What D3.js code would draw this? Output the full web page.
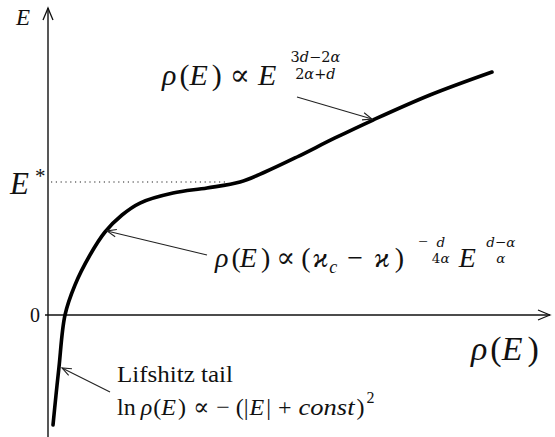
<!DOCTYPE html>
<html>
<head>
<meta charset="utf-8">
<script src="https://cdn.jsdelivr.net/npm/d3@7"></script>
<style>
  html, body { margin: 0; padding: 0; background: #fff; }
  svg { display: block; }
  text { font-family: "Liberation Serif", "DejaVu Serif", serif; fill: #111; }
</style>
</head>
<body>
<svg id="chart" width="555" height="437"></svg>
<script>
// Density of states rho(E) as a function of energy E (E measured in units of E*)
const rho    = [0.010, 0.016, 0.022, 0.034, 0.054, 0.084, 0.114, 0.148, 0.184, 0.250, 0.318, 0.384, 0.434, 0.498, 0.574, 0.650, 0.764, 0.888];
const energy = [-0.827, -0.602, -0.391, 0.000, 0.226, 0.451, 0.624, 0.752, 0.842, 0.917, 0.955, 1.000, 1.075, 1.188, 1.331, 1.466, 1.654, 1.827];

// Marked energies on the vertical axis
const yTickValues = [0, 1];
const yTickLabels = ["0", "E*"];
const eStar = 1;

// Arrow annotations: tip on the curve (rho, E), tail offset in pixels
const annotTipRho = [0.648, 0.118, 0.028];
const annotTipE   = [1.474, 0.632, -0.398];
const annotTail   = [[-75, -22], [100, 24], [48, 24]];

const W = 555, H = 437;
const svg = d3.select("#chart");

const x = d3.scaleLinear().domain([0, 1]).range([48, 548]);
const y = d3.scaleLinear().domain([0, 1]).range([315, 182]);

// ---------- axes ----------
const axisG = svg.append("g").attr("stroke", "#111").attr("fill", "none");
// vertical axis (E)
axisG.append("line")
  .attr("x1", x(0)).attr("x2", x(0))
  .attr("y1", H).attr("y2", 8)
  .attr("stroke-width", 1.4);
axisG.append("path")
  .attr("d", `M${x(0) - 5},20 Q${x(0) - 2},13 ${x(0)},8 Q${x(0) + 2},13 ${x(0) + 5},20`)
  .attr("stroke-width", 1.3);
// horizontal axis (rho)
axisG.append("line")
  .attr("x1", 45).attr("x2", 550)
  .attr("y1", y(0)).attr("y2", y(0))
  .attr("stroke-width", 1.4);
axisG.append("path")
  .attr("d", `M538,${y(0) - 5} Q545,${y(0) - 2} 550,${y(0)} Q545,${y(0) + 2} 538,${y(0) + 5}`)
  .attr("stroke-width", 1.3);

// dotted guide at E*
const iStar = energy.indexOf(eStar);
svg.append("line")
  .attr("x1", x(0) + 3).attr("x2", x(rho[iStar]) - 12)
  .attr("y1", y(eStar)).attr("y2", y(eStar))
  .attr("stroke", "#222").attr("stroke-width", 1.2)
  .attr("stroke-dasharray", "1.2,3.6");

// ---------- curve ----------
const pts = rho.map((r, i) => [r, energy[i]]);
const line = d3.line()
  .x(d => x(d[0]))
  .y(d => y(d[1]))
  .curve(d3.curveCatmullRom.alpha(0.5));
svg.append("path")
  .datum(pts)
  .attr("d", line)
  .attr("fill", "none")
  .attr("stroke", "#000")
  .attr("stroke-width", 3.6)
  .attr("stroke-linecap", "round");

// ---------- annotation arrows ----------
const arrows = svg.append("g").attr("stroke", "#222").attr("fill", "none").attr("stroke-width", 1.1);
annotTipRho.forEach((r, i) => {
  const tx = x(r), ty = y(annotTipE[i]);
  const sx = tx + annotTail[i][0], sy = ty + annotTail[i][1];
  arrows.append("line").attr("x1", sx).attr("y1", sy).attr("x2", tx).attr("y2", ty);
  const ang = Math.atan2(sy - ty, sx - tx), len = 10, spread = 0.38;
  arrows.append("path").attr("d",
    `M${tx + len * Math.cos(ang + spread)},${ty + len * Math.sin(ang + spread)} L${tx},${ty} L${tx + len * Math.cos(ang - spread)},${ty + len * Math.sin(ang - spread)}`);
});

// ---------- typesetting helpers ----------
const txt = svg.append("g");
const SCRIPT_FONT = "'DejaVu Serif', serif";

function put(xp, yp, s, size, o = {}) {
  const t = txt.append("text")
    .attr("x", xp).attr("y", yp)
    .attr("font-size", size)
    .attr("font-style", o.i ? "italic" : "normal")
    .text(s);
  if (o.family) t.style("font-family", o.family);
  if (o.len) t.attr("textLength", o.len).attr("lengthAdjust", o.adjust || "spacingAndGlyphs");
  if (o.anchor) t.attr("text-anchor", o.anchor);
  return t;
}

// stacked exponent fraction (no rule), left edge at x0: one text, two lines
function frac(x0, f) {
  const cx = x0 + f.w / 2;
  const t = txt.append("text").attr("x", cx).attr("y", f.numY).attr("font-size", f.size)
    .attr("text-anchor", "middle").style("font-family", SCRIPT_FONT);
  f.num.forEach((p, k) => {
    const s = t.append("tspan").attr("font-style", p[1] ? "italic" : "normal").text(p[0]);
    if (k === 0) s.attr("x", cx).attr("y", f.numY);
  });
  f.den.forEach((p, k) => {
    const s = t.append("tspan").attr("font-style", p[1] ? "italic" : "normal").text(p[0]);
    if (k === 0) s.attr("x", cx).attr("y", f.denY);
  });
  return f.w;
}

// lay out a row of symbols left to right on a common baseline
function row(x0, y0, items) {
  let cx = x0;
  items.forEach(it => {
    cx += it.dx || 0;
    if (it.frac) { cx += frac(cx, it.frac); return; }
    const t = put(cx, y0 + (it.dy || 0), it.s, it.size, it);
    cx += it.len || t.node().getComputedTextLength();
  });
  return cx;
}

// axis labels
put(16, 25, "E", 23, { i: true });
row(471, 360, [
  { s: "ρ", size: 34, i: true },
  { s: "(", size: 34, dx: 3 },
  { s: "E", size: 34, i: true, dx: 0 },
  { s: ")", size: 34, dx: 5 }
]);

// tick labels on the energy axis
put(40, y(yTickValues[0]) + 7, yTickLabels[0], 20, { anchor: "end" });
put(10, y(yTickValues[1]) + 12, yTickLabels[1][0], 31, { i: true });
put(35, y(yTickValues[1]) + 1, yTickLabels[1][1], 21);

// upper regime: rho(E) ∝ E^{(3d-2α)/(2α+d)}
row(162, 85, [
  { s: "ρ", size: 30, i: true },
  { s: "(", size: 30, dx: 3 },
  { s: "E", size: 30, i: true, dx: 0 },
  { s: ")", size: 30, dx: 4 },
  { s: "∝", size: 30, dx: 8 },
  { s: "E", size: 30, i: true, dx: 8 },
  { frac: { w: 62, size: 14.5, num: [["3"], ["d", 1], ["−"], ["2"], ["α", 1]], den: [["2"], ["α", 1], ["+"], ["d", 1]],
            numY: 62, denY: 79 }, dx: 8 }
]);

// critical regime: rho(E) ∝ (ϰ_c − ϰ)^{-d/(4α)} E^{(d-α)/α}
row(215, 267, [
  { s: "ρ", size: 28, i: true },
  { s: "(", size: 28, dx: 3 },
  { s: "E", size: 28, i: true, dx: -1 },
  { s: ")", size: 28, dx: 4 },
  { s: "∝", size: 28, dx: 6 },
  { s: "(", size: 28, dx: 6 },
  { s: "ϰ", size: 28, i: true, dx: 2 },
  { s: "c", size: 18, i: true, dx: 1, dy: 6 },
  { s: "−", size: 28, dx: 10 },
  { s: "ϰ", size: 28, i: true, dx: 11 },
  { s: ")", size: 28, dx: 5 },
  { s: "−", size: 17, dx: 14, dy: -20 },
  { frac: { w: 18, size: 13.5, num: [["d", 1]], den: [["4"], ["α", 1]], numY: 247, denY: 263 }, dx: 4 },
  { s: "E", size: 28, i: true, dx: 9 },
  { frac: { w: 34, size: 13.5, num: [["d", 1], ["−"], ["α", 1]], den: [["α", 1]], numY: 247, denY: 263 }, dx: 8 }
]);

// Lifshitz tail
put(117, 382, "Lifshitz tail", 24, { len: 116 });
row(117, 415, [
  { s: "ln", size: 24 },
  { s: "ρ", size: 24, i: true, dx: 5 },
  { s: "(", size: 24, dx: 1 },
  { s: "E", size: 24, i: true },
  { s: ")", size: 24, dx: 2 },
  { s: "∝", size: 24, dx: 7 },
  { s: "−", size: 24, dx: 7 },
  { s: "(", size: 24, dx: 6 },
  { s: "|", size: 24 },
  { s: "E", size: 24, i: true, dx: 1 },
  { s: "|", size: 24, dx: 2 },
  { s: "+", size: 24, dx: 7 },
  { s: "const", size: 24, i: true, dx: 7, len: 56 },
  { s: ")", size: 24, dx: 2 },
  { s: "2", size: 16, dx: 2, dy: -12 }
]);
</script>
</body>
</html>
